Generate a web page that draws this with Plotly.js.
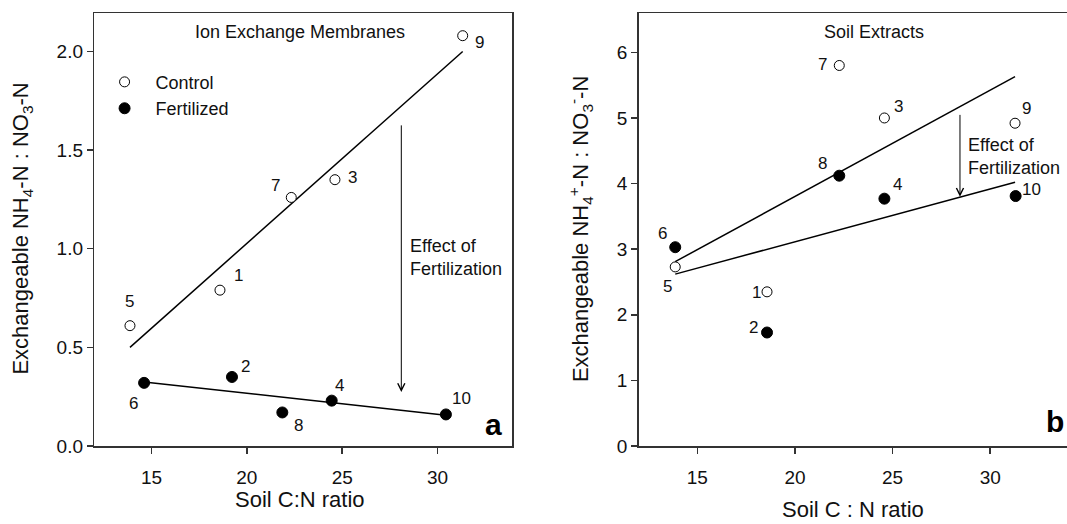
<!DOCTYPE html>
<html>
<head>
<meta charset="utf-8">
<script src="https://cdn.plot.ly/plotly-3.0.1.min.js"></script>
<style>
  html, body { margin: 0; padding: 0; background: #fff; }
  #chart { width: 1067px; height: 524px; }
</style>
</head>
<body>
<div id="chart"></div>
<script>
// ---- Panel a: Ion Exchange Membranes ----
const ionControlCN    = [13.87, 18.59, 22.33, 24.62, 31.32];
const ionControlRatio = [0.61, 0.79, 1.26, 1.35, 2.08];
const ionControlIds   = ['5', '1', '7', '3', '9'];
const ionFertCN       = [14.61, 19.22, 21.86, 24.45, 30.44];
const ionFertRatio    = [0.32, 0.35, 0.17, 0.23, 0.16];
const ionFertIds      = ['6', '2', '8', '4', '10'];
const ionControlFitX  = [13.87, 31.32];
const ionControlFitY  = [0.50, 2.00];
const ionFertFitX     = [14.61, 30.44];
const ionFertFitY     = [0.325, 0.156];

// ---- Panel b: Soil Extracts ----
const soilControlCN    = [13.87, 18.57, 22.27, 24.58, 31.27];
const soilControlRatio = [2.73, 2.35, 5.80, 5.00, 4.92];
const soilControlIds   = ['5', '1', '7', '3', '9'];
const soilFertCN       = [13.87, 18.57, 22.27, 24.58, 31.30];
const soilFertRatio    = [3.03, 1.73, 4.12, 3.77, 3.81];
const soilFertIds      = ['6', '2', '8', '4', '10'];
const soilControlFitX  = [13.87, 31.27];
const soilControlFitY  = [2.81, 5.63];
const soilFertFitX     = [13.87, 31.27];
const soilFertFitY     = [2.62, 4.02];

const seriesNames = ['Control', 'Fertilized'];
const xTicks = [15, 20, 25, 30];
const ionYTicks = [0, 0.5, 1, 1.5, 2];
const soilYTicks = [0, 1, 2, 3, 4, 5, 6];

// label pixel offsets (style only)
const ionControlOff = {'5':[0,24], '1':[19,15], '7':[-16,12], '3':[18,2], '9':[17,-7]};
const ionFertOff    = {'6':[-11,-21], '2':[14,10], '8':[16,-13], '4':[8,15], '10':[16,16]};
const soilControlOff= {'7':[-17,1], '3':[14,11], '9':[11,15], '1':[-11,-1], '5':[-8,-20]};
const soilFertOff   = {'6':[-13,14], '8':[-17,12], '4':[13,14], '10':[16,7], '2':[-14,5]};

const FONT = 'Liberation Sans, Arial, Helvetica, sans-serif';
const TXT = '#111';
const openMarker = {symbol: 'circle', size: 10, color: '#fff', line: {color: '#000', width: 1}};
const fillMarker = {symbol: 'circle', size: 11, color: '#000', line: {color: '#000', width: 1}};
const fitLine = {color: '#000', width: 1.5};

const traces = [
  {x: ionControlFitX, y: ionControlFitY, mode: 'lines', line: fitLine, xaxis: 'x', yaxis: 'y', showlegend: false, hoverinfo: 'skip'},
  {x: ionFertFitX, y: ionFertFitY, mode: 'lines', line: fitLine, xaxis: 'x', yaxis: 'y', showlegend: false, hoverinfo: 'skip'},
  {x: ionControlCN, y: ionControlRatio, mode: 'markers', name: seriesNames[0], marker: openMarker, xaxis: 'x', yaxis: 'y'},
  {x: ionFertCN, y: ionFertRatio, mode: 'markers', name: seriesNames[1], marker: fillMarker, xaxis: 'x', yaxis: 'y'},
  {x: soilControlFitX, y: soilControlFitY, mode: 'lines', line: fitLine, xaxis: 'x2', yaxis: 'y2', showlegend: false, hoverinfo: 'skip'},
  {x: soilFertFitX, y: soilFertFitY, mode: 'lines', line: fitLine, xaxis: 'x2', yaxis: 'y2', showlegend: false, hoverinfo: 'skip'},
  {x: soilControlCN, y: soilControlRatio, mode: 'markers', name: seriesNames[0], marker: openMarker, xaxis: 'x2', yaxis: 'y2', showlegend: false},
  {x: soilFertCN, y: soilFertRatio, mode: 'markers', name: seriesNames[1], marker: fillMarker, xaxis: 'x2', yaxis: 'y2', showlegend: false}
];

const annotations = [];
function note(o) {
  annotations.push(Object.assign({showarrow: false, xanchor: 'center', yanchor: 'middle'}, o));
}
function addLabels(xs, ys, ids, offs, xr, yr) {
  xs.forEach((x, i) => {
    const o = offs[ids[i]];
    note({x: x, y: ys[i], xref: xr, yref: yr, text: ids[i],
      xshift: o[0], yshift: o[1], font: {family: FONT, size: 17, color: TXT}});
  });
}
addLabels(ionControlCN, ionControlRatio, ionControlIds, ionControlOff, 'x', 'y');
addLabels(ionFertCN, ionFertRatio, ionFertIds, ionFertOff, 'x', 'y');
addLabels(soilControlCN, soilControlRatio, soilControlIds, soilControlOff, 'x2', 'y2');
addLabels(soilFertCN, soilFertRatio, soilFertIds, soilFertOff, 'x2', 'y2');

// panel titles
note({x: 22.8, y: 2.098, xref: 'x', yref: 'y', text: 'Ion Exchange Membranes', font: {family: FONT, size: 18, color: TXT}});
note({x: 24.07, y: 6.31, xref: 'x2', yref: 'y2', text: 'Soil Extracts', font: {family: FONT, size: 18, color: TXT}});
// effect arrows
annotations.push({x: 28.1, y: 0.274, ax: 28.1, ay: 1.633, xref: 'x', yref: 'y', axref: 'x', ayref: 'y', text: '', showarrow: true, arrowhead: 5, arrowsize: 1.4, arrowwidth: 1, arrowcolor: '#000'});
annotations.push({x: 28.45, y: 3.80, ax: 28.45, ay: 5.07, xref: 'x2', yref: 'y2', axref: 'x2', ayref: 'y2', text: '', showarrow: true, arrowhead: 5, arrowsize: 1.4, arrowwidth: 1, arrowcolor: '#000'});
note({x: 28.47, y: 0.955, xref: 'x', yref: 'y', xanchor: 'left', align: 'left', text: 'Effect of<br>Fertilization', font: {family: FONT, size: 18, color: TXT}});
note({x: 28.74, y: 4.42, xref: 'x2', yref: 'y2', xanchor: 'left', align: 'left', text: 'Effect of<br>Fertilization', font: {family: FONT, size: 18, color: TXT}});
// panel letters
note({x: 32.96, y: 0.11, xref: 'x', yref: 'y', text: '<b>a</b>', font: {family: FONT, size: 30, color: '#000'}});
note({x: 33.32, y: 0.377, xref: 'x2', yref: 'y2', text: '<b>b</b>', font: {family: FONT, size: 30, color: '#000'}});
// axis titles (paper coords span the plot area: y 0 -> 446px, y 1 -> 13px)
note({x: 0.0211, y: 0.501, xref: 'paper', yref: 'paper', textangle: -90, text: 'Exchangeable NH<sub>4</sub>-N : NO<sub>3</sub>-N', font: {family: FONT, size: 22, color: TXT}});
note({x: 0.5436, y: 0.501, xref: 'paper', yref: 'paper', textangle: -90, text: 'Exchangeable NH<sub>4</sub><sup>+</sup>-N : NO<sub>3</sub><sup>-</sup>-N', font: {family: FONT, size: 22, color: TXT}});
note({x: 0.2812, y: -0.1247, xref: 'paper', yref: 'paper', text: 'Soil C:N ratio', font: {family: FONT, size: 22, color: TXT}});
note({x: 0.7997, y: -0.1478, xref: 'paper', yref: 'paper', text: 'Soil C : N ratio', font: {family: FONT, size: 22, color: TXT}});

const axCommon = {
  showgrid: false, zeroline: false, showline: true, mirror: true,
  linecolor: '#333', linewidth: 1.5, ticks: 'outside', ticklen: 6, tickwidth: 1.5, tickcolor: '#333',
  tickfont: {family: FONT, size: 19, color: TXT}, fixedrange: true
};

const layout = {
  width: 1067, height: 524,
  margin: {l: 0, r: 0, t: 13, b: 78},
  paper_bgcolor: '#fff', plot_bgcolor: '#fff',
  font: {family: FONT, color: TXT},
  showlegend: true,
  legend: {x: 0.0877, y: 0.883, xanchor: 'left', yanchor: 'top', itemwidth: 52, bgcolor: 'rgba(0,0,0,0)', font: {family: FONT, size: 18, color: TXT}},
  xaxis: Object.assign({}, axCommon, {domain: [0.0884, 0.4801], range: [12, 33.92], tickvals: xTicks, anchor: 'y', ticklabelstandoff: 8}),
  yaxis: Object.assign({}, axCommon, {range: [0, 2.195], tickvals: ionYTicks, tickformat: '.1f', anchor: 'x'}),
  xaxis2: Object.assign({}, axCommon, {domain: [0.5986, 1], range: [12, 33.93], tickvals: xTicks, anchor: 'y2', ticklabelstandoff: 8}),
  yaxis2: Object.assign({}, axCommon, {range: [0, 6.6], tickvals: soilYTicks, anchor: 'x2'}),
  annotations: annotations
};

Plotly.newPlot('chart', traces, layout, {staticPlot: true, displayModeBar: false});
</script>
</body>
</html>
